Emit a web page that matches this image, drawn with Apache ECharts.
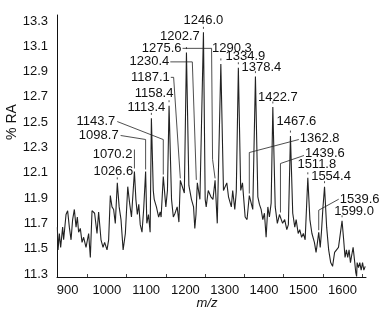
<!DOCTYPE html>
<html><head><meta charset="utf-8">
<script src="https://cdn.jsdelivr.net/npm/echarts@6/dist/echarts.min.js"></script>
<style>html,body{margin:0;padding:0;background:#fff}#c{width:381px;height:314px}</style>
</head><body><div id="c"></div>
<script>
// spectrum (m/z, % RA)
const mz = [873.9,875.7,879.0,882.3,887.4,889.9,896.0,900.1,904.4,908.8,912.8,917.2,921.5,924.8,928.1,932.4,936.8,940.8,946.9,953.6,957.9,962.2,968.8,974.9,979.0,985.1,990.2,994.3,1000.4,1004.5,1008.8,1013.1,1017.2,1021.5,1026.6,1031.3,1036.0,1041.4,1047.1,1053.2,1057.9,1062.7,1070.2,1073.9,1077.6,1081.3,1085.0,1089.5,1093.7,1098.7,1101.8,1106.0,1110.2,1113.4,1118.2,1120.6,1126.2,1131.9,1135.8,1138.2,1143.7,1150.2,1154.3,1158.4,1164.7,1169.3,1173.6,1179.1,1183.5,1187.1,1197.3,1202.7,1208.9,1215.4,1220.8,1224.0,1227.0,1230.4,1237.0,1246.0,1250.4,1253.0,1258.2,1265.0,1270.2,1275.6,1281.2,1290.3,1297.0,1305.5,1309.8,1317.0,1320.5,1325.8,1329.6,1334.9,1340.9,1345.4,1352.2,1357.0,1362.8,1371.6,1378.4,1384.5,1388.6,1392.9,1397.2,1401.3,1405.6,1410.0,1414.0,1418.4,1422.7,1428.8,1434.2,1439.6,1447.6,1452.9,1458.3,1462.3,1467.6,1473.4,1478.6,1482.1,1487.3,1491.3,1496.0,1500.5,1505.0,1511.8,1517.1,1522.3,1528.6,1532.8,1535.5,1539.6,1543.4,1546.5,1550.0,1554.4,1559.8,1564.9,1570.1,1574.9,1580.0,1589.9,1599.0,1603.1,1606.6,1610.1,1613.4,1616.9,1620.4,1623.7,1627.2,1630.7,1634.0,1636.1,1637.4,1640.9,1644.2,1647.7,1651.2,1654.5,1658.0];
const ra = [11.67,11.49,11.62,11.51,11.67,11.57,11.77,11.80,11.67,11.57,11.73,11.81,11.67,11.75,11.63,11.66,11.55,11.59,11.51,11.62,11.43,11.80,11.78,11.62,11.79,11.57,11.51,11.55,11.49,11.57,11.92,11.83,11.81,11.70,12.02,11.83,11.73,11.49,11.62,11.99,11.86,11.75,12.11,11.89,11.77,11.85,11.69,11.63,11.81,12.11,11.70,11.77,11.63,12.53,11.96,11.89,11.83,11.75,11.79,11.75,12.07,11.83,11.96,12.63,11.89,11.75,11.78,11.83,11.71,12.04,11.94,13.05,12.00,11.89,11.83,11.66,11.77,12.02,11.89,13.21,11.89,11.83,11.96,11.91,11.89,12.04,11.70,12.96,11.96,12.02,11.91,11.83,11.96,11.81,11.95,12.93,11.96,12.02,11.75,11.73,11.92,11.81,12.86,11.91,11.85,11.81,11.73,11.78,11.59,11.83,11.75,11.86,12.62,11.83,11.70,11.77,11.70,11.73,11.65,11.69,12.39,11.78,11.67,11.73,11.62,11.65,11.59,11.62,11.57,12.06,11.73,11.62,11.55,11.47,11.53,11.63,11.51,11.63,11.81,11.99,11.67,11.49,11.39,11.36,11.47,11.51,11.72,11.57,11.43,11.49,11.43,11.49,11.39,11.45,11.51,11.41,11.31,11.28,11.39,11.35,11.39,11.33,11.39,11.33,11.36];

// tick labels
const xTicks = [900,1000,1100,1200,1300,1400,1500,1600];
const xMinorTicks = [950,1050,1150,1250,1350,1450,1550,1650];
const yTicks = [11.3,11.5,11.7,11.9,12.1,12.3,12.5,12.7,12.9,13.1,13.3];

// peak annotations
const peakLabels = ['1026.6','1070.2','1098.7','1113.4','1143.7','1158.4','1187.1','1202.7','1230.4','1246.0','1275.6','1290.3','1334.9','1362.8','1378.4','1422.7','1439.6','1467.6','1511.8','1539.6','1554.4','1599.0'];

// annotation layout (pixel offsets relative to each peak top)
const DOT = [[0,-5.5],[0,-3.5]];
const annLayout = [
  {off:[-4,-11], align:'center', lead:DOT},
  {off:[-2,-17], align:'right', lead:[[0,-22],[0,-3]]},
  {off:[-27,-36], align:'right', lead:[[-25,-36],[0,-32],[0,-2]]},
  {off:[-5,-11], align:'center', lead:DOT},
  {off:[-48,-55], align:'right', lead:[[-46,-55],[0,-37],[0,-2]]},
  {off:[-15,-12], align:'center', lead:DOT},
  {off:[-10.5,-103], align:'right', lead:[[-9.5,-103],[-6.7,-103],[0,-2]]},
  {off:[-6.5,-16], align:'center', lead:DOT},
  {off:[-28,-121], align:'right', lead:[[-27,-121],[-5,-121],[-1,-3]]},
  {off:[0,-12], align:'center', lead:DOT},
  {off:[-33.5,-132], align:'right', lead:[[-32.5,-132],[-3.5,-132],[-2.5,-21],[0,-2]]},
  {off:[11,-16], align:'center', lead:DOT},
  {off:[7,-11], align:'center', lead:DOT},
  {off:[50.5,-57], align:'left', lead:[[49.5,-56],[0,-43],[0,-2]]},
  {off:[6,-9], align:'center', lead:DOT},
  {off:[5,-10], align:'center', lead:DOT},
  {off:[25.5,-61], align:'left', lead:[[24.5,-59],[1,-51],[1,-2]]},
  {off:[6,-15], align:'center', lead:DOT},
  {off:[9,-13], align:'center', lead:DOT},
  {off:[21,-33], align:'left', lead:[[20,-33],[0,-22],[0,-2]]},
  {off:[6.5,-10], align:'center', lead:DOT},
  {off:[12,-9], align:'center', lead:DOT}
];

const FONT = '"Liberation Sans", Arial, Helvetica, sans-serif';
const spectrum = mz.map((m,i)=>[m, ra[i]]);
const annData = peakLabels.map((t,i)=>{
  const m = parseFloat(t);
  const k = mz.indexOf(m);
  return [m, ra[k], i];
});

const chart = echarts.init(document.getElementById('c'), null, {renderer:'canvas'});
chart.setOption({
  animation:false,
  backgroundColor:'#fff',
  grid:{left:57, right:15, top:15, bottom:37},
  xAxis:{
    type:'value', min:873, max:1660,
    axisLine:{show:true, lineStyle:{color:'#111', width:1}},
    splitLine:{show:false},
    axisTick:{show:true, inside:true, length:3, customValues:xMinorTicks, lineStyle:{color:'#444'}},
    axisLabel:{customValues:xTicks, fontSize:13, color:'#111', margin:7, fontFamily:FONT,
      formatter:v=>String(Math.round(v))}
  },
  yAxis:{
    type:'value', min:11.276, max:13.347,
    axisLine:{show:true, lineStyle:{color:'#111', width:1}},
    splitLine:{show:false},
    axisTick:{show:false},
    axisLabel:{customValues:yTicks, fontSize:13, color:'#111', margin:9, fontFamily:FONT,
      formatter:v=>Number(v).toFixed(1)}
  },
  graphic:[
    {type:'text', x:12, y:122, rotation:Math.PI/2,
      style:{text:'% RA', font:'14px '+FONT, fill:'#111', textAlign:'center', textVerticalAlign:'middle'}},
    {type:'text', x:207, y:303,
      style:{text:'m/z', font:'italic 13px '+FONT, fill:'#111', textAlign:'center', textVerticalAlign:'middle'}}
  ],
  series:[
    {type:'line', data:spectrum, showSymbol:false, silent:true,
      lineStyle:{color:'#222', width:1.1}},
    {type:'custom', data:annData, silent:true, clip:false,
      renderItem:function(params, api){
        const i = api.value(2);
        const p = api.coord([api.value(0), api.value(1)]);
        const L = annLayout[i];
        return {type:'group', children:[
          {type:'polyline', shape:{points:L.lead.map(d=>[p[0]+d[0], p[1]+d[1]])},
            style:{stroke:'#222', lineWidth:0.8, fill:null}},
          {type:'text', style:{x:p[0]+L.off[0], y:p[1]+L.off[1], text:peakLabels[i],
            textAlign:L.align, textVerticalAlign:'middle', font:'13px '+FONT, fill:'#111'}}
        ]};
      }}
  ]
});
</script></body></html>
